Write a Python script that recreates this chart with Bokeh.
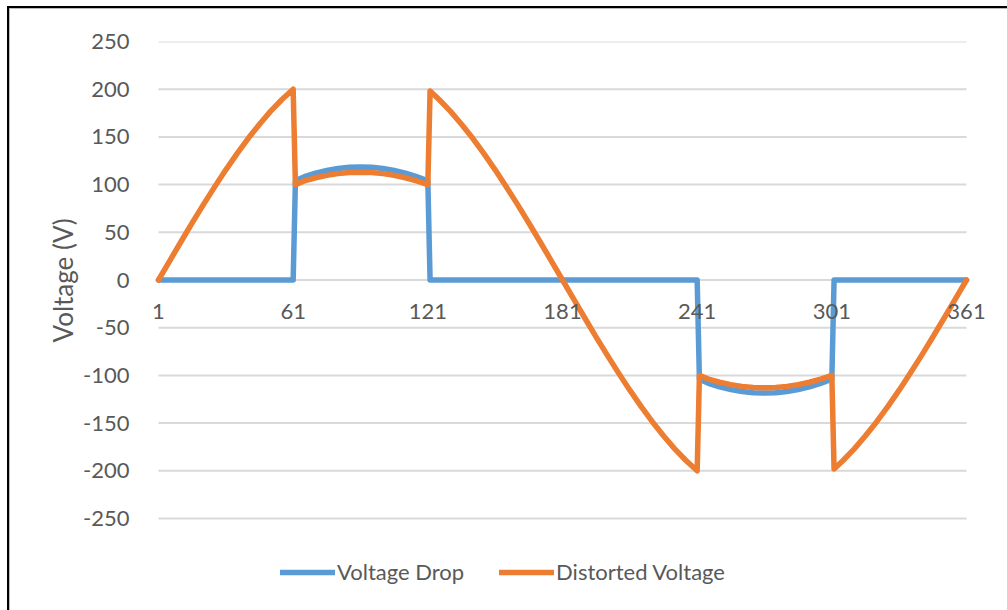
from bokeh.plotting import figure
from bokeh.models import Legend, LegendItem, FixedTicker, Range1d, Title
from bokeh.embed import file_html
from bokeh.resources import INLINE

# ---- data ----
x_ticks = [1, 61, 121, 181, 241, 301, 361]
y_ticks = [-250, -200, -150, -100, -50, 0, 50, 100, 150, 200, 250]

drop_x = [1, 61, 62, 66, 71, 76, 81, 86, 91, 96, 101, 106, 111, 116, 121, 122,
          241, 242, 246, 251, 256, 261, 266, 271, 276, 281, 286, 291, 296, 301, 302, 361]
drop_v = [0, 0, 104, 108.3, 112, 114.8, 116.9, 118.1, 118.5, 118.1, 116.9, 114.8, 112, 108.3, 104, 0,
          0, -104, -108.3, -112, -114.8, -116.9, -118.1, -118.5, -118.1, -116.9, -114.8, -112, -108.3, -104, 0, 0]

dist_x = [1, 6, 11, 16, 21, 26, 31, 36, 41, 46, 51, 56, 61,
          62, 66, 71, 76, 81, 86, 91, 96, 101, 106, 111, 116, 121,
          122, 126, 131, 136, 141, 146, 151, 156, 161, 166, 171, 176, 181,
          186, 191, 196, 201, 206, 211, 216, 221, 226, 231, 236, 241,
          242, 246, 251, 256, 261, 266, 271, 276, 281, 286, 291, 296, 301,
          302, 306, 311, 316, 321, 326, 331, 336, 341, 346, 351, 356, 361]
dist_v = [0, 20.1, 40.1, 59.8, 79, 97.6, 115.5, 132.5, 148.5, 163.3, 177, 189.2, 200,
          100, 103.9, 107.2, 109.7, 111.5, 112.6, 113, 112.6, 111.5, 109.7, 107.2, 103.9, 100,
          198, 189.2, 177, 163.3, 148.5, 132.5, 115.5, 97.6, 79, 59.8, 40.1, 20.1, 0,
          -20.1, -40.1, -59.8, -79, -97.6, -115.5, -132.5, -148.5, -163.3, -177, -189.2, -200,
          -100, -103.9, -107.2, -109.7, -111.5, -112.6, -113, -112.6, -111.5, -109.7, -107.2, -103.9, -100,
          -198, -189.2, -177, -163.3, -148.5, -132.5, -115.5, -97.6, -79, -59.8, -40.1, -20.1, 0]

series_names = ["Voltage Drop", "Distorted Voltage"]
y_title = "Voltage (V)"
blue = "#5b9bd5"
orange = "#ed7d31"
grid_col = "#d9d9d9"
text_col = "#595959"
font = "Lato"

# ---- layout (pixels) ----
W, H = 1007, 610
left_b, right_b, top_b, bot_b = 148, 12, 41, 0
data_left_px, data_right_px = 158, 966      # where x = 1 and x = 361 fall
data_top_px, data_bot_px = 41, 518          # where y = 250 and y = -250 fall
ppu_x = (data_right_px - data_left_px) / (x_ticks[-1] - x_ticks[0])
ppu_y = (data_bot_px - data_top_px) / (y_ticks[-1] - y_ticks[0])
x_start = x_ticks[0] - (data_left_px - left_b) / ppu_x
x_end = x_ticks[-1] + ((W - right_b) - data_right_px) / ppu_x
y_end = y_ticks[-1]
y_start = y_ticks[-1] - ((H - bot_b) - top_b) / ppu_y

p = figure(width=W, height=H, x_range=Range1d(x_start, x_end), y_range=Range1d(y_start, y_end),
           output_backend="svg", toolbar_location=None,
           min_border_left=left_b, min_border_right=right_b, min_border_top=top_b, min_border_bottom=bot_b)
p.outline_line_color = None
p.background_fill_color = "white"
p.border_fill_color = None
p.styles = {"background": "linear-gradient(#000,#000) 7px 6px / 2px 3000px no-repeat, "
                          "linear-gradient(#000,#000) 7px 6px / 3000px 2px no-repeat, "
                          "linear-gradient(#bbb,#bbb) 9px 8px / 1px 3000px no-repeat, "
                          "linear-gradient(#bbb,#bbb) 9px 8px / 3000px 1px no-repeat, #fff"}

p.xgrid.visible = False
p.ygrid.visible = False

# horizontal gridlines spanning the category axis
p.segment(x0=x_ticks[0], x1=x_ticks[-1], y0=y_ticks, y1=y_ticks, line_color=grid_col, line_width=2)

# y axis
p.yaxis.ticker = FixedTicker(ticks=y_ticks)
p.yaxis.major_label_overrides = {t: str(t) for t in y_ticks}
p.yaxis.axis_line_color = None
p.yaxis.major_tick_line_color = None
p.yaxis.minor_tick_line_color = None
p.yaxis.major_label_text_font = font
p.yaxis.major_label_text_font_size = "22px"
p.yaxis.major_label_text_color = text_col
p.yaxis.major_label_standoff = 13

# y axis title, positioned along the value axis
title = Title(text=y_title, align="left", offset=H - 342, standoff=4,
              text_font=font, text_font_size="26px", text_font_style="normal", text_color=text_col)
p.add_layout(title, "left")

# x axis pinned at y = 0
p.xaxis.fixed_location = 0
p.xaxis.ticker = FixedTicker(ticks=x_ticks)
p.xaxis.axis_line_color = None
p.xaxis.major_tick_line_color = None
p.xaxis.minor_tick_line_color = None
p.xaxis.major_label_text_font = font
p.xaxis.major_label_text_font_size = "22px"
p.xaxis.major_label_text_color = text_col
p.xaxis.major_label_standoff = 18

r1 = p.line(drop_x, drop_v, line_color=blue, line_width=5.5, line_join="round", line_cap="round")
r2 = p.line(dist_x, dist_v, line_color=orange, line_width=5.5, line_join="round", line_cap="round")

legend = Legend(items=[LegendItem(label=series_names[0], renderers=[r1]),
                       LegendItem(label=series_names[1], renderers=[r2])],
                orientation="horizontal", location=(280 - left_b, 25),
                border_line_color=None, background_fill_alpha=0,
                padding=0, margin=0, spacing=35, glyph_width=55, glyph_height=24, label_height=24,
                label_standoff=2, label_text_font=font, label_text_font_size="22px",
                label_text_color=text_col, label_text_baseline="middle")
p.add_layout(legend)

open("out.html", "w").write(file_html(p, INLINE))
